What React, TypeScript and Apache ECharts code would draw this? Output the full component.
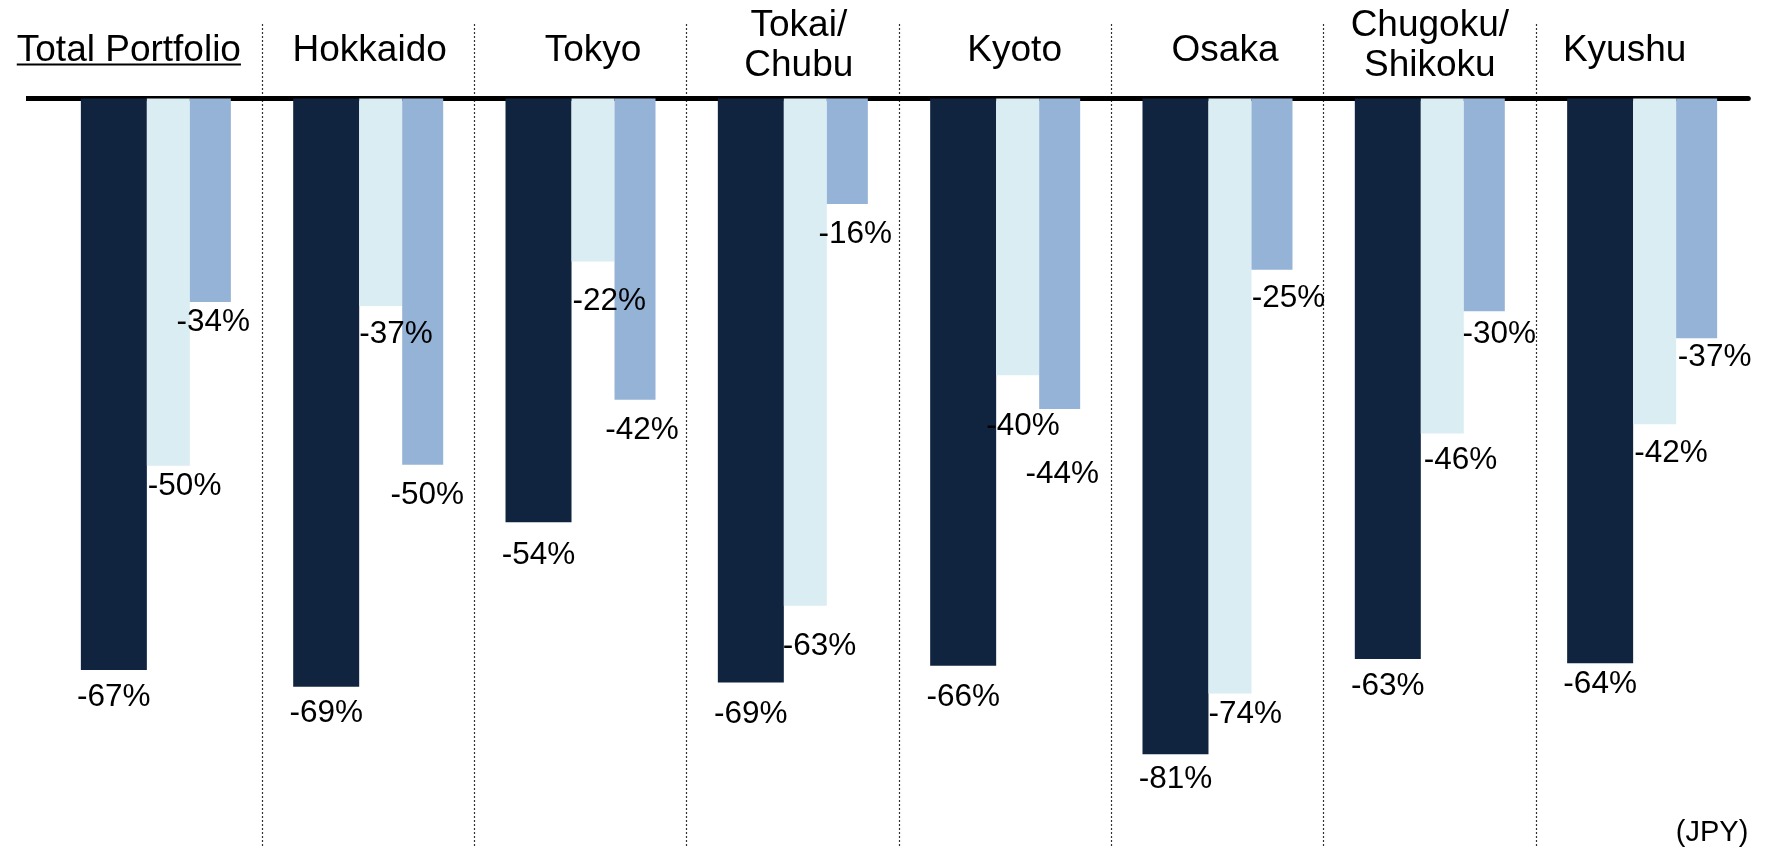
import React, { useEffect, useRef } from 'react';
import * as echarts from 'echarts';

// Category labels (top axis)
const categories = ['Total Portfolio', 'Hokkaido', 'Tokyo', 'Tokai/\nChubu', 'Kyoto', 'Osaka', 'Chugoku/\nShikoku', 'Kyushu'];

// Printed change values (%)
const labelsDark = [-67, -69, -54, -69, -66, -81, -63, -64];
const labelsLight = [-50, -37, -22, -63, -40, -74, -46, -42];
const labelsMid = [-34, -50, -42, -16, -44, -25, -30, -37];

// Bar depths as drawn in the picture (same % units, chart is not drawn to scale)
const depthDark = [-67.7, -69.7, -50.2, -69.2, -67.2, -77.7, -66.4, -66.9];
const depthLight = [-43.5, -24.6, -19.3, -60.1, -32.8, -70.5, -39.7, -38.6];
const depthMid = [-24.1, -43.4, -35.7, -12.5, -36.8, -20.3, -25.2, -28.4];

const unitLabel = '(JPY)';

// ---- styling (positions / sizes) ----
const W = 1765;
const H = 847;
const FONT = '"Liberation Sans", Arial, sans-serif';
const GRID_LEFT = 49.7;
const GRID_RIGHT = 16.7;
const GRID_TOP = 24;
const PX_PER_UNIT = 8.44;
const ZERO_Y = 98.5;
const Y_MAX = (ZERO_Y - GRID_TOP) / PX_PER_UNIT;
const Y_MIN = -(H - ZERO_Y) / PX_PER_UNIT;
const BAR_W = { dark: 66, light: 43, mid: 41 };
const COLORS = { dark: '#11243f', light: '#daedf3', mid: '#95b3d7' };
const CAT_FONT = 37;
const CAT_LH = 40;
const CAT_MARGIN = -59.5; // labels sit inside the grid, above the zero line
const VAL_FONT = 31.5;
// per-category label padding [top, right, bottom, left]
const catPadding = [
  [0, 54, 15.5, 0],
  [0, 0, 15.5, 3],
  [0, 0, 15.5, 25],
  [0, 0, 0, 12],
  [0, 0, 15.5, 19],
  [0, 0, 15.5, 15],
  [0, 0, 0, 0],
  [0, 35, 15.5, 0],
];
// label gaps (bar end -> label middle) and horizontal nudges
const gapDark = [25, 24.5, 31, 29, 29, 22.5, 25, 19];
const gapLight = [18, 26, 38, 38, 49, 18, 24.6, 26.5];
const gapMid = [18, 28, 28, 28, 63, 26, 21, 16.7];
const dxLight = [1, 0, 1, -1, -10, 0, 3, 1];
const dxMid = [3, 4.5, 7, 8, 2.5, 16.5, 15, 18];

function makeSeries(name: string, depth: number[], labels: number[], width: number, color: string,
  align: 'center' | 'left', dx: (i: number) => number, gaps: number[]) {
  return {
    name,
    type: 'bar',
    barWidth: width,
    barGap: '0%',
    itemStyle: { color },
    data: depth.map((v, i) => ({ value: v, label: { offset: [dx(i), gaps[i]] } })),
    label: {
      show: true,
      position: 'bottom',
      distance: 0,
      align,
      verticalAlign: 'middle',
      fontSize: VAL_FONT,
      fontFamily: FONT,
      color: '#000',
      formatter: (p: any) => `${labels[p.dataIndex]}%`,
    },
  };
}

export default function App() {
  const ref = useRef<HTMLDivElement>(null);
  useEffect(() => {
    if (!ref.current) return;
    const chart = echarts.init(ref.current, undefined, { renderer: 'svg' });
    chart.setOption({
      animation: false,
      grid: { left: GRID_LEFT, right: GRID_RIGHT, top: GRID_TOP, bottom: 0, containLabel: false, outerBoundsMode: 'none' },
      xAxis: {
        type: 'category',
        position: 'top',
        data: categories.map((c, i) => ({ value: c, textStyle: { padding: catPadding[i] } })),
        axisLine: { show: true, onZero: true, lineStyle: { color: '#000', width: 5 } },
        axisTick: { show: false },
        axisLabel: {
          interval: 0,
          fontSize: CAT_FONT,
          lineHeight: CAT_LH,
          fontFamily: FONT,
          color: '#000',
          margin: CAT_MARGIN,
        },
        splitLine: {
          show: true,
          showMinLine: false,
          showMaxLine: false,
          lineStyle: { color: '#333', width: 1.2, type: [2, 2] },
        },
      },
      yAxis: {
        type: 'value',
        min: Y_MIN,
        max: Y_MAX,
        show: false,
        splitLine: { show: false },
      },
      series: [
        makeSeries('A', depthDark, labelsDark, BAR_W.dark, COLORS.dark, 'center', () => 0, gapDark),
        makeSeries('B', depthLight, labelsLight, BAR_W.light, COLORS.light, 'left', (i) => dxLight[i] - BAR_W.light / 2, gapLight),
        makeSeries('C', depthMid, labelsMid, BAR_W.mid, COLORS.mid, 'center', (i) => dxMid[i], gapMid),
      ],
    });

    const y0 = chart.convertToPixel({ yAxisIndex: 0 }, 0) as number;
    const cx0 = chart.convertToPixel({ xAxisIndex: 0 }, categories[0]) as number;
    const canvas = document.createElement('canvas');
    const ctx = canvas.getContext('2d')!;
    ctx.font = `${CAT_FONT}px ${FONT}`;
    const tw = ctx.measureText(categories[0]).width;
    const pad = catPadding[0];
    const textCx = cx0 + (pad[3] - pad[1]) / 2;
    const lineCenter = GRID_TOP - CAT_MARGIN - pad[2] - CAT_LH / 2;
    const ulY = lineCenter + 16.5;

    chart.setOption({
      graphic: [
        {
          type: 'line',
          shape: { x1: 26, y1: y0, x2: GRID_LEFT + 2, y2: y0 },
          style: { stroke: '#000', lineWidth: 5 },
          z: 10,
        },
        {
          type: 'line',
          shape: { x1: textCx - tw / 2, y1: ulY, x2: textCx + tw / 2, y2: ulY },
          style: { stroke: '#000', lineWidth: 2 },
          z: 10,
        },
        {
          type: 'text',
          x: W - GRID_RIGHT,
          y: 831,
          style: { text: unitLabel, align: 'right', verticalAlign: 'middle', fontSize: 29, fontFamily: FONT, fill: '#000' },
          z: 10,
        },
      ],
    });
    return () => chart.dispose();
  }, []);
  return <div ref={ref} style={{ position: 'fixed', left: 0, top: 0, width: W, height: H }} />;
}
